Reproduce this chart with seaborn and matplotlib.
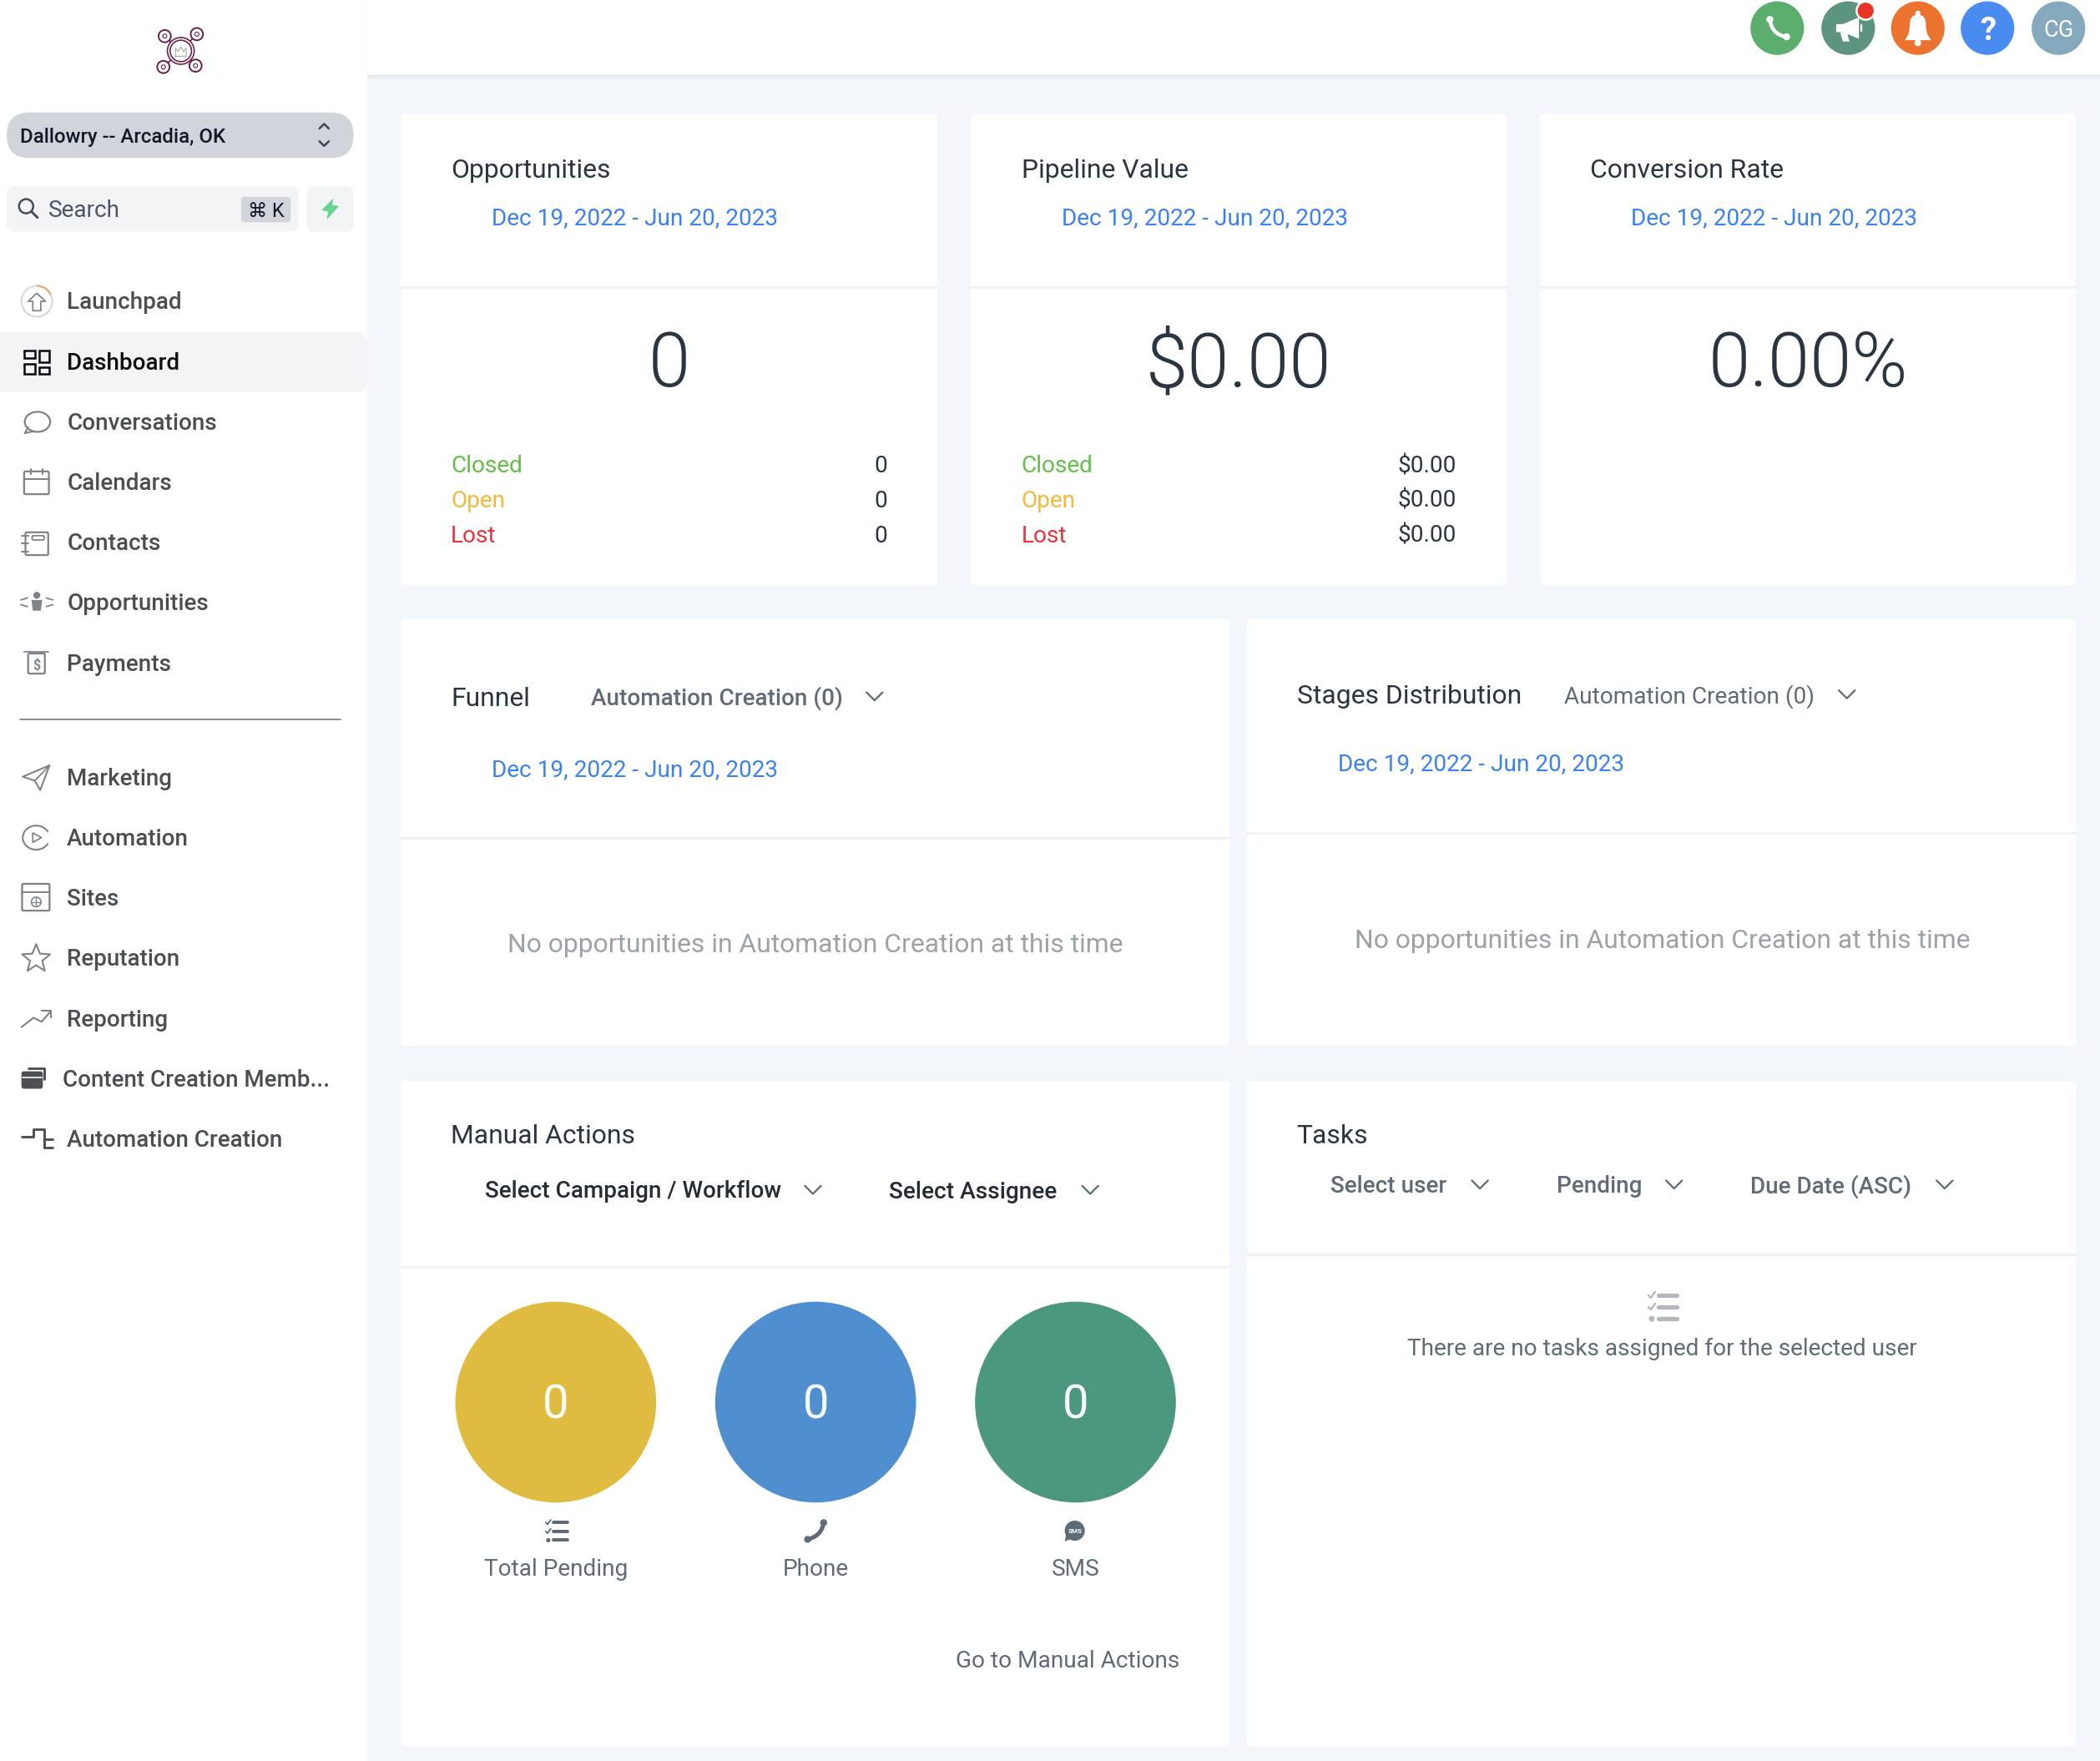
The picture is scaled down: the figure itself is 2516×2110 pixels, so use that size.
#!/usr/bin/env python3
"""Dashboard screenshot redrawn on one full-figure axes (coordinates in 1568-wide screen px)."""
import numpy as np
import pandas as pd
import matplotlib
matplotlib.use("Agg")
import matplotlib.pyplot as plt
import seaborn as sns
from matplotlib.patches import FancyBboxPatch, Circle, Rectangle, Polygon, Ellipse, Arc, PathPatch
from matplotlib.path import Path

sns.set_theme(style="white")
plt.rcParams['font.family'] = ['Roboto', 'DejaVu Sans']

# ---- data ----
NAV_TOP = ["Launchpad", "Dashboard", "Conversations", "Calendars", "Contacts", "Opportunities", "Payments"]
NAV_BOTTOM = ["Marketing", "Automation", "Sites", "Reputation", "Reporting", "Content Creation Memb...", "Automation Creation"]
ACCOUNT = "Dallowry -- Arcadia, OK"
DATE_RANGE = "Dec 19, 2022 - Jun 20, 2023"

STAT_TITLES = ["Opportunities", "Pipeline Value", "Conversion Rate"]
STAT_VALUES = ["0", "$0.00", "0.00%"]
STAT_ROWS = ["Closed", "Open", "Lost"]
STAT_ROW_VALUES = [["0", "0", "0"], ["$0.00", "$0.00", "$0.00"], []]

EMPTY_MSG = "No opportunities in Automation Creation at this time"
PIPELINE = "Automation Creation (0)"

ACTION_LABELS = ["Total Pending", "Phone", "SMS"]
ACTION_COUNTS = [0, 0, 0]
ACTION_COLORS = ["#DFBC3F", "#4F8ECF", "#4B977F"]

TOP_BUTTON_COLORS = ["#5BAE6D", "#5D947F", "#EC722F", "#4A8BEF", "#84A8BC"]

BG = "#F3F6FA"
INK = "#2B3540"
BLUE = "#3B82F0"
GREY = "#5F6B76"
NAV_INK = "#4A4D52"
ROW_COLORS = ["#62BF46", "#F6B93B", "#E6343A"]
ICON = "#7F8387"
DARK_ICON = "#4D4F53"
DIVIDER = "#F0F2F5"
LOGO = "#6B1D45"

PX = 1.155  # one screen px in points at this scale
W, H = 1568, 1315

fig = plt.figure(figsize=(25.16, 21.10), dpi=100, facecolor=BG)
ax = fig.add_axes([0, 0, 1, 1])


def T(x, y, s, size, color=INK, ha="left", weight="normal", **kw):
    ax.text(x, y - 0.7, s, fontsize=size * PX, color=color, ha=ha, va="center_baseline", fontweight=weight, **kw)


def box(x0, y0, x1, y1, color, r=4, z=1):
    ax.add_patch(FancyBboxPatch((x0, y0), x1 - x0, y1 - y0, boxstyle=f"round,pad=0,rounding_size={r}",
                                fc=color, ec="none", zorder=z))


def line(xs, ys, color=ICON, lw=1.5, z=3):
    ax.plot(xs, ys, color=color, lw=lw * PX, zorder=z, solid_capstyle="round", solid_joinstyle="round")


def chevron(x, y, color=GREY):
    line([x - 6, x, x + 6], [y - 3, y + 3, y - 3], color=color, lw=1.4)


def card(x0, y0, x1, y1, div):
    box(x0, y0, x1, y1, "white", r=4)
    line([x0, x1], [div, div], color=DIVIDER, lw=2, z=2)


def ring(x, y, r, color=ICON, lw=1.4):
    ax.add_patch(Circle((x, y), r, fc="none", ec=color, lw=lw * PX, zorder=3))


def dot(x, y, r, color, z=4):
    ax.add_patch(Circle((x, y), r, fc=color, ec="none", zorder=z))


def poly(pts, color="white", z=4, fill=True, lw=1.4):
    ax.add_patch(Polygon(pts, closed=True, fc=color if fill else "none", ec=color if not fill else "none",
                         lw=lw * PX, zorder=z, joinstyle="round"))


def rect(x, y, w, h, color=ICON, lw=1.4):
    ax.add_patch(FancyBboxPatch((x, y), w, h, boxstyle="round,pad=0,rounding_size=1", fc="none", ec=color,
                                lw=lw * PX, zorder=3))


def checklist(x, y, color, k=1.0):
    for i, dy in enumerate([-7, 0, 7]):
        line([x - 3 * k, x + 8 * k], [y + dy * k, y + dy * k], color=color, lw=2.6 * k, z=4)
        if i < 2:
            line([x - 9 * k, x - 7.5 * k, x - 5 * k], [y + dy * k, y + (dy + 1.5) * k, y + (dy - 2) * k],
                 color=color, lw=1.2 * k, z=4)
        else:
            dot(x - 7 * k, y + dy * k, 1.7 * k, color)


def phone_glyph(start, ctrl, end, color, lw, blob):
    ax.add_patch(PathPatch(Path([start, ctrl, end], [Path.MOVETO, Path.CURVE3, Path.CURVE3]),
                           fc="none", ec=color, lw=lw * PX, zorder=5, capstyle="round"))
    dot(start[0], start[1], blob, color, z=5)
    dot(end[0], end[1], blob, color, z=5)


# ---- page chrome ----
box(0, 0, 274, H + 5, "white", r=0.1, z=1)
for i, c in enumerate(["#DDE2E8", "#E6EAEF", "#ECF0F4", "#F1F4F8"]):
    ax.add_patch(Rectangle((274, 56 + i), W - 274, 1.2, fc=c, ec="none", zorder=1))
ax.add_patch(Rectangle((274, 0), W - 274, 56, fc="white", ec="none", zorder=2))

# header buttons
button_x = [1327, 1380, 1432, 1484, 1537]
for bx, col in zip(button_x, TOP_BUTTON_COLORS):
    dot(bx, 21, 20, col, z=3)
phone_glyph((1321.5, 14.5), (1323, 26), (1334, 27.5), "white", 2.8, 2.6)
poly([(1371, 18), (1376, 18), (1388, 13), (1388, 29), (1376, 24), (1371, 24)])
poly([(1374, 24), (1379, 24), (1381, 31), (1376, 31)])
line([1389.5, 1389.5], [19, 23], color="white", lw=1.5, z=4)
dot(1393, 8, 7.5, "white", z=5)
dot(1393, 8, 6, "#E93325", z=6)
bell = Path([(1422, 30), (1426, 26), (1426, 18), (1426, 11), (1432, 11), (1438, 11), (1438, 18), (1438, 26), (1442, 30), (1422, 30)],
            [Path.MOVETO, Path.CURVE3, Path.CURVE3, Path.CURVE3, Path.CURVE3, Path.CURVE3, Path.CURVE3, Path.CURVE3, Path.CURVE3, Path.CLOSEPOLY])
ax.add_patch(PathPatch(bell, fc="white", ec="none", zorder=4))
dot(1432, 10, 2, "white")
dot(1432, 32, 2.5, "white")
T(1484, 21.5, "?", 24, "white", ha="center", weight="bold", zorder=5)
T(1537, 21.5, "CG", 17, "white", ha="center", zorder=5)

# logo
for nx, ny in [(123, 27), (147, 25.5), (122, 50), (146, 49)]:
    line([135, nx], [38, ny], color=LOGO, lw=1.0)
    ax.add_patch(Circle((nx, ny), 4.6, fc="white", ec=LOGO, lw=1.2 * PX, zorder=4))
    ax.add_patch(Circle((nx, ny), 1.5, fc="none", ec=LOGO, lw=0.7 * PX, zorder=5))
ax.add_patch(Circle((135, 38), 10, fc="white", ec=LOGO, lw=1.0 * PX, zorder=4))
ax.add_patch(Circle((135, 38), 8, fc="white", ec=LOGO, lw=1.0 * PX, zorder=4))
line([131, 131, 133, 135, 137, 139, 139, 131], [42, 36, 38.5, 35, 38.5, 36, 42, 42], color="#8FA59B", lw=0.6, z=5)

# account pill and search
box(5, 84, 264, 118, "#D1D5DB", r=17, z=2)
T(15, 101.5, ACCOUNT, 15, "#111827", weight=500, zorder=3)
line([238.5, 242, 245.5], [96, 92.5, 96], color="#374151", lw=1.5)
line([238.5, 242, 245.5], [105.5, 109, 105.5], color="#374151", lw=1.5)
box(5, 139, 223, 173, "#F3F4F6", r=6, z=2)
ring(19.5, 154, 5.3, color="#3F4A5A", lw=1.5)
line([23.5, 28], [158, 162.5], color="#3F4A5A", lw=1.8)
T(36, 156, "Search", 17.5, "#4B5563", zorder=3)
box(180, 147, 217, 166, "#D1D5DB", r=2.5, z=3)
T(198.5, 157, "⌘ K", 14.5, "#111827", ha="center", zorder=4)
box(229, 139, 264, 173, "#F3F4F6", r=6, z=2)
poly([(249, 148), (240, 157), (245, 158), (244, 164), (253, 154), (248, 153)], color="#68D391", z=3)

# ---- sidebar nav ----
box(-8, 248, 274, 293, "#F3F4F6", r=8, z=2)
nav_y_top = 225 + 45 * np.arange(len(NAV_TOP))
nav_y_bot = 580.5 + 45 * np.arange(len(NAV_BOTTOM))
for label, y in zip(NAV_TOP, nav_y_top):
    active = label == "Dashboard"
    T(50, y, label, 17.4, "#0B0F14" if active else NAV_INK, weight=500, zorder=3)
for label, y in zip(NAV_BOTTOM, nav_y_bot):
    T(47 if label.startswith("Content") else 50, y, label, 17.3, NAV_INK, weight=500, zorder=3)
line([15, 254], [537.5, 537.5], color="#6B7280", lw=1, z=2)

# launchpad
ring(27.5, 225, 11.5, color="#D9D9D9", lw=1.4)
ax.add_patch(Arc((27.5, 225), 23, 23, theta1=-90, theta2=-25, ec="#F0A868", lw=1.4 * PX, zorder=4))
poly([(27.5, 219), (34, 225), (30.5, 225), (30.5, 232), (24.5, 232), (24.5, 225), (21, 225)], color=ICON, fill=False, lw=1.1)
# dashboard
DK = "#0B0F14"
for x_, y_, w_, h_ in [(18, 262, 8, 5.5), (29, 262, 7.5, 8.5), (18, 271.5, 8, 8), (29, 274, 7.5, 5.5)]:
    ax.add_patch(Rectangle((x_, y_), w_, h_, fc="none", ec=DK, lw=1.6 * PX, zorder=4))
# conversations
ax.add_patch(Ellipse((28, 315), 19, 15, fc="none", ec=ICON, lw=1.4 * PX, zorder=4))
line([21, 18.5, 25], [319, 323.5, 322], lw=1.3)
# calendars
rect(18, 352, 18.5, 17)
line([18, 36.5], [358, 358], lw=1.3)
line([23, 23], [350, 354], lw=1.3)
line([32, 32], [350, 354], lw=1.3)
# contacts
rect(19, 397.5, 17, 17)
rect(24, 400, 9, 3.2, lw=1.1)
for yy in [400, 406, 412]:
    line([16.5, 21], [yy, yy], lw=1.2)
# opportunities
dot(27.5, 444.5, 2.6, ICON)
poly([(23.5, 448), (31.5, 448), (30.5, 456), (24.5, 456)], color=ICON)
for sx in [-1, 1]:
    for yy in [446.5, 453]:
        line([27.5 + sx * 7, 27.5 + sx * 12], [yy, yy + (1.5 if yy < 450 else -1.5)], lw=1.1)
# payments
rect(21, 488, 12.5, 15)
line([18, 36], [487, 487], lw=1.1)
T(27.3, 496.5, "$", 10, ICON, ha="center", weight="bold", zorder=5)
# marketing
poly([(37, 571.5), (17, 580), (26, 583), (30, 590)], color=ICON, fill=False, lw=1.3)
line([26, 37], [583, 571.5], lw=1.1)
# automation
ax.add_patch(Arc((27, 625.5), 20, 18, theta1=25, theta2=335, ec=ICON, lw=1.3 * PX, zorder=4))
poly([(24.5, 622), (24.5, 629), (31, 625.5)], color=ICON, fill=False, lw=1.1)
# sites
rect(16.5, 660, 20.5, 20)
line([16.5, 37], [666, 666], lw=1.2)
ring(27, 673.5, 3.6, lw=1.0)
line([23.5, 30.5], [673.5, 673.5], lw=0.8)
line([27, 27], [670, 677], lw=0.8)
# reputation
ang = np.deg2rad(np.arange(-90, 270, 36))
rad = np.where(np.arange(10) % 2 == 0, 11, 4.8)
poly(np.c_[27 + rad * np.cos(ang), 716 + rad * np.sin(ang)], color=ICON, fill=False, lw=1.3)
# reporting
line([16, 25, 31, 38], [767, 760, 763, 755], lw=1.3)
line([31, 38, 38], [755, 755, 760], lw=1.3)
# content creation
box(16, 800, 32, 813, DARK_ICON, r=2, z=4)
line([21, 33, 33], [797.5, 797.5, 806], color=DARK_ICON, lw=1.8)
line([17, 31], [804.5, 804.5], color="white", lw=1.0, z=5)
# automation creation
line([16, 25, 25, 33, 33, 39], [849, 849, 843, 843, 857, 857], color=DARK_ICON, lw=1.8)
line([33, 33, 39], [857, 851, 851], color=DARK_ICON, lw=1.8)

# ---- stat cards ----
stat_x = [(299, 700), (725, 1125), (1150, 1550)]
for (x0, x1), title, value, rows in zip(stat_x, STAT_TITLES, STAT_VALUES, STAT_ROW_VALUES):
    card(x0, 85, x1, 437, 214.5)
    T(x0 + 37.5, 126, title, 19.9, INK, zorder=3)
    T(x0 + 67.8, 162, DATE_RANGE, 17.5, BLUE, zorder=3)
    T((x0 + x1) / 2, 268, value, 56.5, INK, ha="center", weight=300, zorder=3)
    for lab, val, col, y in zip(STAT_ROWS, rows, ROW_COLORS, [347, 373, 399]):
        T(x0 + 37.5, y, lab, 17.5, col, zorder=3)
        T(x1 - 37.5, y, val, 17.5, INK, ha="right", zorder=3)

# ---- funnel + stages ----
card(299, 462, 918, 781, 626)
T(336.8, 520.5, "Funnel", 19.9, INK, zorder=3)
T(441, 520.5, PIPELINE, 17.35, GREY, weight=500, zorder=3)
chevron(653, 520)
T(367, 573.5, DATE_RANGE, 17.5, BLUE, zorder=3)
T(609, 704.5, EMPTY_MSG, 19.9, "#9BA2A8", ha="center", zorder=3)

card(931, 462, 1550, 781, 622)
T(968.3, 519, "Stages Distribution", 19.9, INK, zorder=3)
T(1168, 519, PIPELINE, 17.5, GREY, zorder=3)
chevron(1379, 518.5)
T(999, 569.5, DATE_RANGE, 17.5, BLUE, zorder=3)
T(1241, 701.5, EMPTY_MSG, 19.9, "#9BA2A8", ha="center", zorder=3)

# ---- manual actions ----
card(299, 807, 918, 1304, 946)
T(336.8, 847.5, "Manual Actions", 19.9, INK, zorder=3)
T(362, 888.5, "Select Campaign / Workflow", 17.35, "#252C34", weight=500, zorder=3)
chevron(607, 888.5)
T(664, 889, "Select Assignee", 17.5, "#252C34", weight=500, zorder=3)
chevron(814, 888.5)

circles = pd.DataFrame({"x": [415, 609, 803], "y": [1047] * 3, "label": ACTION_LABELS, "count": ACTION_COUNTS})
sns.scatterplot(data=circles, x="x", y="y", hue="label", palette=ACTION_COLORS, s=(150 * PX) ** 2,
                linewidth=0, legend=False, zorder=3, ax=ax)
for cx, label, count in zip(circles["x"], circles["label"], circles["count"]):
    T(cx, 1047, str(count), 35, "white", ha="center", zorder=4, alpha=0.95)
    T(cx, 1170.5, label, 17.5, GREY, ha="center", zorder=3)
checklist(416, 1143.5, GREY, k=0.95)
phone_glyph((603, 1149.5), (613.5, 1147), (615, 1137), GREY, 3.2, 2.6)
dot(802.5, 1143, 7.5, GREY)
poly([(796, 1146), (800, 1149), (795, 1151)], color=GREY)
T(802.5, 1143.7, "SMS", 5, "white", ha="center", weight="bold", zorder=5)
T(881, 1239.5, "Go to Manual Actions", 17.5, GREY, ha="right", zorder=3)

# ---- tasks ----
card(931, 807, 1550, 1304, 937)
T(968, 847.5, "Tasks", 19.9, INK, zorder=3)
for label, lx, cx in zip(["Select user", "Pending", "Due Date (ASC)"], [993.3, 1162, 1307], [1105, 1250, 1452]):
    T(lx, 884.5, label, 17.35, GREY, weight=500, zorder=3)
    chevron(cx, 884.5)
checklist(1242, 976, "#B4B8BC", k=1.25)
T(1241, 1006, "There are no tasks assigned for the selected user", 17.5, GREY, ha="center", zorder=3)

ax.set_xlim(0, W)
ax.set_ylim(H, 0)
ax.set_xlabel("")
ax.set_ylabel("")
ax.axis("off")
fig.savefig("out.png", dpi=100, facecolor=BG)
